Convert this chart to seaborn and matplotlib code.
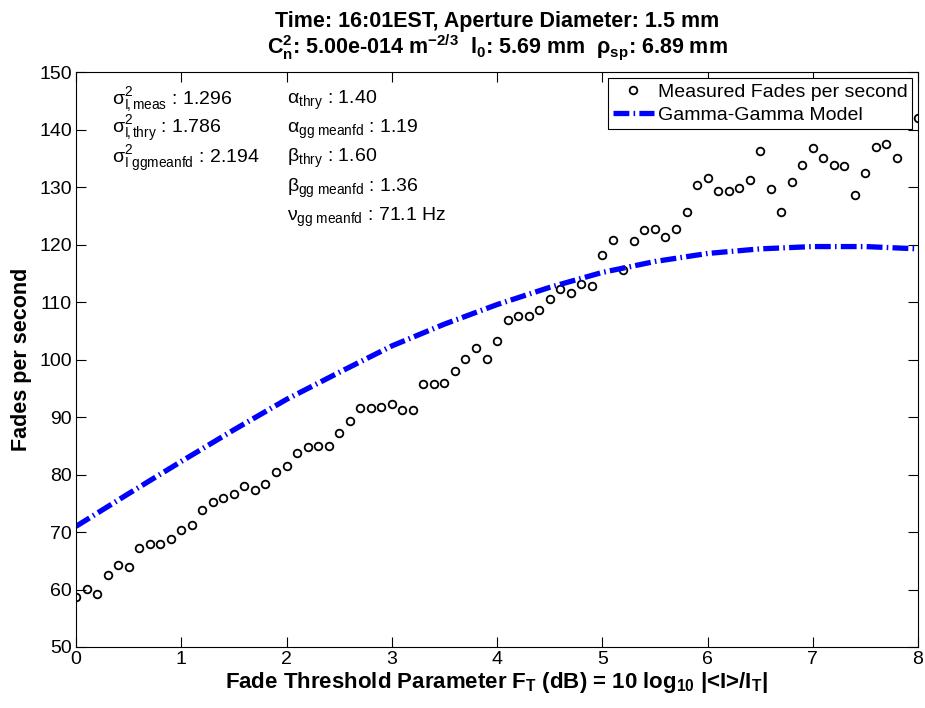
import numpy as np
import pandas as pd
import matplotlib
matplotlib.use("Agg")
import matplotlib.pyplot as plt
from matplotlib.lines import Line2D
import seaborn as sns

# Measured fade rate vs. fade threshold (one sample every 0.1 dB)
threshold_db = [0.0, 0.1, 0.2, 0.3, 0.4, 0.5, 0.6, 0.7, 0.8, 0.9,
                1.0, 1.1, 1.2, 1.3, 1.4, 1.5, 1.6, 1.7, 1.8, 1.9,
                2.0, 2.1, 2.2, 2.3, 2.4, 2.5, 2.6, 2.7, 2.8, 2.9,
                3.0, 3.1, 3.2, 3.3, 3.4, 3.5, 3.6, 3.7, 3.8, 3.9,
                4.0, 4.1, 4.2, 4.3, 4.4, 4.5, 4.6, 4.7, 4.8, 4.9,
                5.0, 5.1, 5.2, 5.3, 5.4, 5.5, 5.6, 5.7, 5.8, 5.9,
                6.0, 6.1, 6.2, 6.3, 6.4, 6.5, 6.6, 6.7, 6.8, 6.9,
                7.0, 7.1, 7.2, 7.3, 7.4, 7.5, 7.6, 7.7, 7.8, 8.0]
fades_measured = [58.7, 60.1, 59.3, 62.5, 64.2, 64.0, 67.3, 67.9, 67.9, 68.8,
                  70.3, 71.3, 73.8, 75.2, 76.0, 76.6, 78.1, 77.4, 78.4, 80.5,
                  81.5, 83.8, 84.8, 85.0, 85.0, 87.2, 89.4, 91.6, 91.6, 91.8,
                  92.3, 91.3, 91.2, 95.7, 95.7, 95.9, 98.1, 100.2, 102.0, 100.2,
                  103.3, 106.9, 107.6, 107.6, 108.6, 110.6, 112.4, 111.7, 113.1, 112.9,
                  118.2, 120.8, 115.7, 120.6, 122.6, 122.7, 121.3, 122.8, 125.8, 130.4,
                  131.7, 129.3, 129.3, 129.9, 131.2, 136.3, 129.8, 125.8, 130.9, 133.9,
                  136.8, 135.1, 133.9, 133.7, 128.7, 132.5, 137.1, 137.5, 135.2, 142.1]

# Gamma-Gamma model fade rate
model_db = [0.0, 0.5, 1.0, 1.5, 2.0, 2.5, 3.0, 3.5, 4.0,
            4.5, 5.0, 5.5, 6.0, 6.5, 7.0, 7.5, 8.0]
fades_model = [71.0, 76.7, 82.3, 87.8, 93.1, 97.8, 102.4, 106.2, 109.6,
               112.6, 115.2, 117.1, 118.5, 119.3, 119.7, 119.7, 119.3]

x_ticks = [0, 1, 2, 3, 4, 5, 6, 7, 8]
y_ticks = [50, 60, 70, 80, 90, 100, 110, 120, 130, 140, 150]

stats_left = [r"$\sigma^2_{I\!,meas}$ : 1.296",
              r"$\sigma^2_{I\!,thry}$ : 1.786",
              r"$\sigma^2_{I\ ggmeanfd}$ : 2.194"]
stats_right = [r"$\alpha_{thry}$ : 1.40",
               r"$\alpha_{gg\ meanfd}$ : 1.19",
               r"$\beta_{thry}$ : 1.60",
               r"$\beta_{gg\ meanfd}$ : 1.36",
               r"$\nu_{gg\ meanfd}$ : 71.1 Hz"]

sns.set_style("ticks")
plt.rcParams["font.family"] = ["Liberation Sans", "DejaVu Sans"]
plt.rcParams["mathtext.fontset"] = "custom"
plt.rcParams["mathtext.rm"] = "Liberation Sans"
plt.rcParams["mathtext.it"] = "Liberation Sans:italic"
plt.rcParams["mathtext.bf"] = "Liberation Sans:bold"
plt.rcParams["mathtext.default"] = "regular"
plt.rcParams["text.color"] = "black"
plt.rcParams["axes.labelcolor"] = "black"
plt.rcParams["axes.titlecolor"] = "black"

fig = plt.figure(figsize=(9.25, 7.08), dpi=100)
ax = fig.add_axes([0.0822, 0.0862, 0.9103, 0.8114])

meas = pd.DataFrame({"ft": threshold_db, "rate": fades_measured})
model = pd.DataFrame({"ft": model_db, "rate": fades_model})

sns.lineplot(data=meas, x="ft", y="rate", ax=ax, linestyle="", marker="o",
             markersize=5.5, markerfacecolor="none", markeredgecolor="black",
             markeredgewidth=1.3, errorbar=None, sort=False)
sns.lineplot(data=model, x="ft", y="rate", ax=ax, color="#0000ff",
             linewidth=3.8, errorbar=None, sort=False)
model_line = ax.lines[-1]
model_line.set_dashes((3.0, 0.8, 0.3, 0.8))
model_line.set_dash_capstyle("butt")

ax.set_xlim(0, 8)
ax.set_ylim(50, 150)
ax.set_xticks(x_ticks)
ax.set_yticks(y_ticks)
ax.tick_params(direction="in", length=7, width=0.8, top=True, right=True,
               labelsize=14, colors="black", pad=3)
for sp in ax.spines.values():
    sp.set_visible(True)
    sp.set_color("black")
    sp.set_linewidth(0.8)

ax.set_xlabel(r"Fade Threshold Parameter $F_T$ (dB) = 10 log$_{10}$ |<I>/$I_T$|",
              fontsize=16, fontweight="bold", labelpad=1, color="black")
ax.set_ylabel("Fades per second", fontsize=15.5, fontweight="bold",
              labelpad=5, color="black")

ax.set_title("Time: 16:01EST, Aperture Diameter: 1.5 mm\n"
             r"$C_n^2$: 5.00e-014 m$^{-2/3}$  $l_0$: 5.69 mm  $\rho_{sp}$: 6.89 mm",
             fontsize=15.5, fontweight="bold", pad=14, linespacing=1.0,
             color="black")

# statistics block, placed in axes fraction
for i, s in enumerate(stats_left):
    ax.text(0.043, 0.952 - i * 0.051, s, transform=ax.transAxes,
            fontsize=14, va="center", ha="left", color="black")
for i, s in enumerate(stats_right):
    ax.text(0.250, 0.952 - i * 0.051, s, transform=ax.transAxes,
            fontsize=14, va="center", ha="left", color="black")

handles = [Line2D([], [], linestyle="", marker="o", markersize=5.5,
                  markerfacecolor="none", markeredgecolor="black",
                  markeredgewidth=1.3),
           Line2D([], [], color="#0000ff", linewidth=3.8,
                  dashes=(3.0, 0.8, 0.3, 0.8), dash_capstyle="butt")]
leg = ax.legend(handles, ["Measured Fades per second", "Gamma-Gamma Model"],
                loc="upper right", fontsize=14, frameon=True, fancybox=False,
                framealpha=1, edgecolor="black", borderaxespad=0.3,
                handlelength=2.1, handletextpad=0.2, borderpad=0.25,
                labelspacing=0.3, labelcolor="black")
leg.get_frame().set_linewidth(0.8)

fig.savefig("out.png", dpi=100)
